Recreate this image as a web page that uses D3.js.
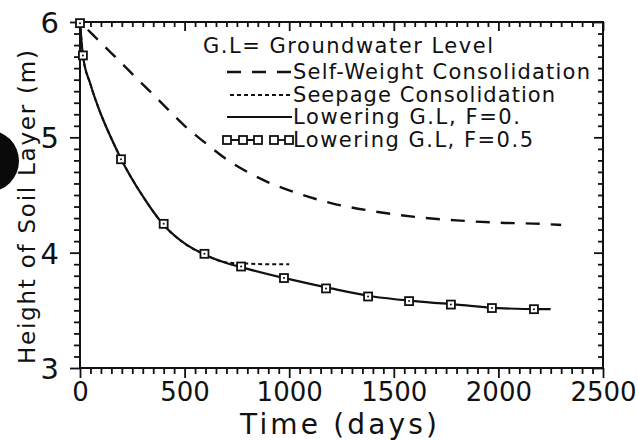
<!DOCTYPE html>
<html>
<head>
<meta charset="utf-8">
<script src="https://cdn.jsdelivr.net/npm/d3@7"></script>
<style>
  html, body { margin: 0; padding: 0; background: #fff; }
  svg { display: block; font-family: "DejaVu Sans", sans-serif; }
</style>
</head>
<body>
<svg id="chart" width="638" height="440"></svg>
<script>
// ---------- data ----------
const xTicks = [0, 500, 1000, 1500, 2000, 2500];
const yTicks = [3, 4, 5, 6];

// Self-Weight Consolidation (dashed)
const selfWeightDays   = [0, 100, 200, 300, 400, 500, 600, 700, 800, 900, 1000, 1200, 1400, 1600, 1800, 2000, 2200, 2300];
const selfWeightHeight = [6.00, 5.82, 5.64, 5.46, 5.28, 5.10, 4.95, 4.81, 4.70, 4.61, 4.54, 4.43, 4.36, 4.31, 4.28, 4.26, 4.25, 4.24];

// Seepage Consolidation (dotted)
const seepageDays   = [0, 14, 50, 100, 150, 200, 300, 400, 500, 600, 700, 800, 900, 1000];
const seepageHeight = [6.00, 5.71, 5.46, 5.20, 4.99, 4.80, 4.49, 4.24, 4.08, 3.98, 3.915, 3.905, 3.90, 3.90];

// Lowering G.L, F=0. (solid)
const lowerF0Days   = [0, 14, 50, 100, 150, 200, 300, 400, 500, 600, 700, 800, 1000, 1200, 1400, 1600, 1800, 2000, 2200, 2250];
const lowerF0Height = [6.00, 5.71, 5.46, 5.20, 4.99, 4.80, 4.49, 4.24, 4.08, 3.98, 3.91, 3.86, 3.77, 3.69, 3.62, 3.58, 3.55, 3.52, 3.51, 3.51];

// Lowering G.L, F=0.5 (squares)
const lowerF05Days   = [0, 14, 196, 400, 595, 770, 975, 1176, 1377, 1573, 1773, 1969, 2170];
const lowerF05Height = [5.99, 5.71, 4.81, 4.25, 3.99, 3.88, 3.78, 3.69, 3.62, 3.58, 3.55, 3.52, 3.51];

const legendLabels = ["G.L=  Groundwater Level", "Self-Weight Consolidation", "Seepage Consolidation", "Lowering G.L, F=0.", "Lowering G.L, F=0.5"];

// ---------- layout ----------
const svg = d3.select("#chart");
const L = 80, R = 603, T = 22, B = 368;
const x = d3.scaleLinear().domain([0, 2500]).range([L, R]);
const y = d3.scaleLinear().domain([3, 6]).range([B, T]);
const ink = "#111";

// hole-punch mark
svg.append("circle").attr("cx", -12).attr("cy", 161).attr("r", 31).attr("fill", "#0a0a0a");

const zip = (a, b) => a.map((d, i) => [d, b[i]]);
const line = d3.line().x(d => x(d[0])).y(d => y(d[1])).curve(d3.curveMonotoneX);

// ---------- axes ----------
const minorX = d3.range(0, 2501, 50).filter(v => v % 500 !== 0);
const minorY = d3.range(30, 61, 1).map(v => v / 10).filter(v => Math.abs(v - Math.round(v)) > 1e-6);

function styleAxis(g) {
  g.select(".domain").remove();
  g.selectAll(".tick line").attr("stroke", ink).attr("stroke-width", 1.8);
}

// bottom
svg.append("g").attr("transform", `translate(0,${B})`)
  .call(d3.axisBottom(x).tickValues(minorX).tickSize(6).tickFormat(""))
  .call(styleAxis);
const gb = svg.append("g").attr("transform", `translate(0,${B})`)
  .call(d3.axisBottom(x).tickValues(xTicks).tickSize(10).tickPadding(8).tickFormat(d3.format("d")))
  .call(styleAxis);
gb.selectAll(".tick text").attr("fill", ink).attr("font-size", 26).attr("font-family", "DejaVu Sans, sans-serif")
  .attr("dy", null).attr("y", 33);

// left
svg.append("g").attr("transform", `translate(${L},0)`)
  .call(d3.axisLeft(y).tickValues(minorY).tickSize(6).tickFormat(""))
  .call(styleAxis);
const gl = svg.append("g").attr("transform", `translate(${L},0)`)
  .call(d3.axisLeft(y).tickValues(yTicks).tickSize(10).tickPadding(11).tickFormat(d3.format("d")))
  .call(styleAxis);
gl.selectAll(".tick text").attr("fill", ink).attr("font-size", 29).attr("font-family", "DejaVu Sans, sans-serif")
  .attr("dy", "0.36em");

// top (ticks inward)
svg.append("g").attr("transform", `translate(0,${T})`)
  .call(d3.axisTop(x).tickValues(minorX).tickSize(-5).tickFormat(""))
  .call(styleAxis);
svg.append("g").attr("transform", `translate(0,${T})`)
  .call(d3.axisTop(x).tickValues(xTicks).tickSize(-9).tickFormat(""))
  .call(styleAxis);

// right (ticks inward)
svg.append("g").attr("transform", `translate(${R},0)`)
  .call(d3.axisRight(y).tickValues(minorY).tickSize(-5).tickFormat(""))
  .call(styleAxis);
svg.append("g").attr("transform", `translate(${R},0)`)
  .call(d3.axisRight(y).tickValues(yTicks).tickSize(-9).tickFormat(""))
  .call(styleAxis);

// frame
svg.append("rect").attr("x", L).attr("y", T).attr("width", R - L).attr("height", B - T)
  .attr("fill", "none").attr("stroke", ink).attr("stroke-width", 2);

// axis titles
svg.append("text").attr("x", 240).attr("y", 434).attr("font-size", 28).attr("fill", ink)
  .attr("textLength", 197).attr("lengthAdjust", "spacing").text("Time (days)");
svg.append("text").attr("transform", "translate(35,364) rotate(-90)").attr("font-size", 23).attr("fill", ink)
  .attr("textLength", 314).attr("lengthAdjust", "spacing").text("Height of Soil Layer (m)");

// ---------- series ----------
svg.append("path").datum(zip(selfWeightDays, selfWeightHeight)).attr("d", line)
  .attr("fill", "none").attr("stroke", ink).attr("stroke-width", 2.4).attr("stroke-dasharray", "14,11")
  .attr("stroke-dashoffset", 14);

svg.append("path").datum(zip(seepageDays, seepageHeight)).attr("d", line)
  .attr("fill", "none").attr("stroke", ink).attr("stroke-width", 2).attr("stroke-dasharray", "4,3");

svg.append("path").datum(zip(lowerF0Days, lowerF0Height)).attr("d", line)
  .attr("fill", "none").attr("stroke", ink).attr("stroke-width", 2.2);

svg.selectAll("rect.mk").data(zip(lowerF05Days, lowerF05Height)).enter().append("rect")
  .attr("class", "mk")
  .attr("x", d => x(d[0]) - 4).attr("y", d => y(d[1]) - 4).attr("width", 8).attr("height", 8)
  .attr("fill", "#fff").attr("stroke", ink).attr("stroke-width", 1.8);
svg.selectAll("circle.mkd").data(zip(lowerF05Days, lowerF05Height)).enter().append("circle")
  .attr("class", "mkd").attr("cx", d => x(d[0])).attr("cy", d => y(d[1])).attr("r", 1).attr("fill", ink);

// ---------- legend ----------
const lgText = [[203, 53, 290], [293, 79, 297], [293, 102, 262], [293, 124, 227], [293, 147, 240]];
legendLabels.forEach((t, i) => {
  svg.append("text").attr("x", lgText[i][0]).attr("y", lgText[i][1]).attr("font-size", 21).attr("fill", ink)
    .attr("textLength", lgText[i][2]).attr("lengthAdjust", "spacing").text(t);
});
// samples
svg.append("line").attr("x1", 227).attr("x2", 292).attr("y1", 72).attr("y2", 72)
  .attr("stroke", ink).attr("stroke-width", 2.4).attr("stroke-dasharray", "14,11");
svg.append("line").attr("x1", 230).attr("x2", 290).attr("y1", 95).attr("y2", 95)
  .attr("stroke", ink).attr("stroke-width", 2).attr("stroke-dasharray", "4,3");
svg.append("line").attr("x1", 227).attr("x2", 292).attr("y1", 117).attr("y2", 117)
  .attr("stroke", ink).attr("stroke-width", 2.2);
svg.append("line").attr("x1", 224).attr("x2", 262).attr("y1", 140).attr("y2", 140)
  .attr("stroke", ink).attr("stroke-width", 1.8);
svg.append("line").attr("x1", 270).attr("x2", 292).attr("y1", 140).attr("y2", 140)
  .attr("stroke", ink).attr("stroke-width", 1.8);
[227, 243, 258, 274, 289].forEach(cx => {
  svg.append("rect").attr("x", cx - 4).attr("y", 136).attr("width", 8).attr("height", 8)
    .attr("fill", "#fff").attr("stroke", ink).attr("stroke-width", 1.8);
});
</script>
</body>
</html>
